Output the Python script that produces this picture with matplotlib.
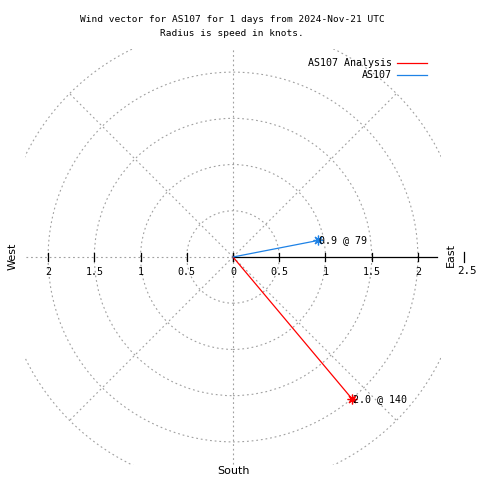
import numpy as np
import matplotlib
matplotlib.use("Agg")
import matplotlib.pyplot as plt
from matplotlib.patches import Circle

# data
names = ["AS107 Analysis", "AS107"]
speeds = [2.0, 0.94]          # knots
directions = [140, 79]        # degrees from north
colors = ["#ff0000", "#1e82e6"]
label_speeds = ["2.0", "0.9"]

ring_radii = [0.5, 1.0, 1.5, 2.0, 2.5]
spoke_angles = [0, 45, 90, 135, 180, 225, 270, 315]
tick_values = [0.5, 1.0, 1.5, 2.0]
tick_labels = ["0.5", "1", "1.5", "2"]

mono = "DejaVu Sans Mono"
grid_col = "#a0a0a0"
grid_ls = (0, (1.6, 2.6))

fig = plt.figure(figsize=(4.8, 4.8), dpi=100)
ax = fig.add_axes([25 / 480, 15 / 480, 416 / 480, 416 / 480])
ax.set_xlim(-2.25, 2.25)
ax.set_ylim(-2.25, 2.25)
ax.set_aspect("equal")
ax.axis("off")

# grid rings and spokes
for r in ring_radii:
    ax.add_patch(Circle((0, 0), r, fill=False, ec=grid_col, lw=0.8,
                        ls=grid_ls))
for a in spoke_angles:
    if a == 90:
        continue
    t = np.radians(a)
    ax.plot([0, 2.5 * np.sin(t)], [0, 2.5 * np.cos(t)], color=grid_col,
            lw=0.8, ls=grid_ls)

# east axis (solid) and ticks
ax.plot([0, 2.21], [0, 0], color="black", lw=0.9)
for v in [0] + tick_values:
    for s in (-1, 1):
        ax.plot([s * v, s * v], [-0.045, 0.045], color="black", lw=0.9)
ax.plot([2.5, 2.5], [-0.05, 0.05], color="black", lw=0.9, clip_on=False)

for v, lab in zip(tick_values, tick_labels):
    ax.text(v, -0.165, lab, ha="center", va="center", family=mono, fontsize=7.2)
    ax.text(-v, -0.165, lab, ha="center", va="center", family=mono, fontsize=7.2)
ax.text(0, -0.165, "0", ha="center", va="center", family=mono, fontsize=7.2)
ax.text(2.53, -0.15, "2.5", ha="center", va="center", family=mono,
        fontsize=7.8, clip_on=False)

ax.text(2.36, 0.02, "East", rotation=90, ha="center", va="center",
        fontsize=8, clip_on=False)
ax.text(-2.38, 0.01, "West", rotation=90, ha="center", va="center",
        fontsize=8, clip_on=False)
ax.text(0, -2.31, "South", ha="center", va="center", fontsize=8,
        clip_on=False)

# vectors
for n, s, d, c, ls in zip(names, speeds, directions, colors, label_speeds):
    t = np.radians(d)
    x, y = s * np.sin(t), s * np.cos(t)
    ax.plot([0, x], [0, y], color=c, lw=0.9, label=n)
    ax.plot(x, y, marker=(8, 2, 0), color=c, ms=7, mew=0.9)
    ax.text(x + 0.01, y, f"{ls} @ {d}", ha="left", va="center",
            family=mono, fontsize=7.2)

# legend (gnuplot style: text right-aligned, sample on the right)
for i, (n, c) in enumerate(zip(names, colors)):
    yy = 1 - (63 + 12 * i) / 480
    fig.text(392 / 480, yy, n, ha="right", va="center", family=mono,
             fontsize=7.2)
    fig.add_artist(plt.Line2D([397 / 480, 427 / 480], [yy, yy], color=c,
                              lw=0.9))

fig.text(232 / 480, 1 - 20 / 480,
         "Wind vector for AS107 for 1 days from 2024-Nov-21 UTC",
         ha="center", va="center", family=mono, fontsize=6.8)
fig.text(232 / 480, 1 - 33 / 480, "Radius is speed in knots.",
         ha="center", va="center", family=mono, fontsize=6.8)

fig.savefig("out.png", dpi=100)
